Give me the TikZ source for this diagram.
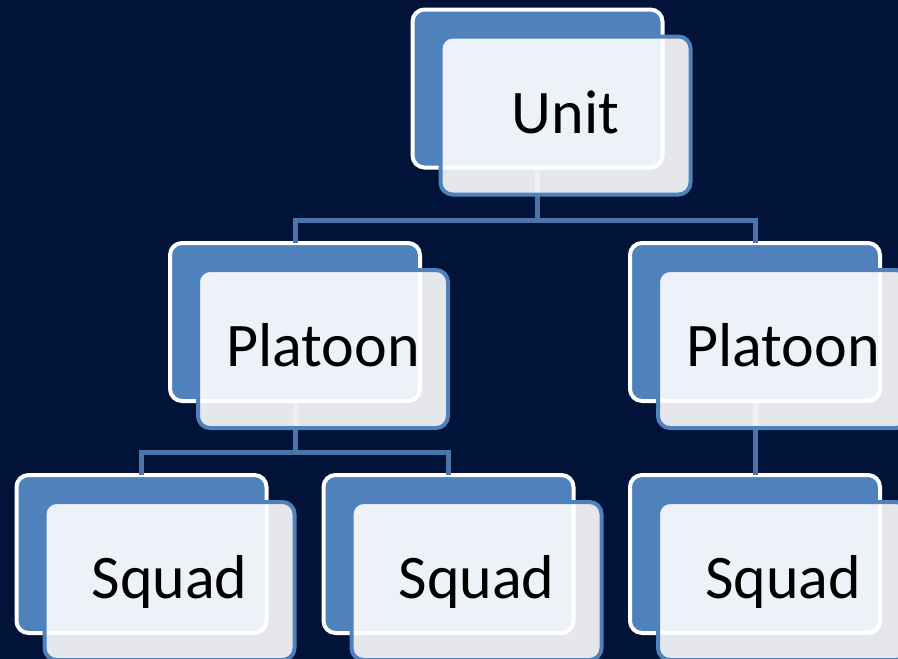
\documentclass[tikz,border=0pt]{standalone}
\usepackage{fontspec}
\setmainfont{Carlito}
\usetikzlibrary{positioning}
\definecolor{navy}{HTML}{011339}
\definecolor{boxblue}{HTML}{4F81BD}
\definecolor{linkblue}{HTML}{4A74AA}
\tikzset{
	backbox/.style={draw=white, fill=boxblue, line width=4pt, rounded corners=12pt, minimum width=250pt, minimum height=158pt, inner sep=0pt},
	frontbox/.style={draw=boxblue, fill=white, fill opacity=0.9, text opacity=1, line width=4pt, rounded corners=12pt, minimum width=250pt, minimum height=158pt, inner sep=0pt, text height=45pt, text depth=10pt, font=\fontsize{62}{70}\selectfont},
	link/.style={draw=linkblue, line width=5pt}
}

\begin{document}
\begin{tikzpicture}[x=1pt, y=-1pt]
		\clip(0, 0) rectangle (898, 659);
		\fill[navy](0, 0) rectangle (898, 659);
		\node[backbox](unit-b) at (537.5, 88.5){};
		\node[backbox](platoonl-b) at (295, 322){};
		\node[backbox](platoonr-b) at (755, 322){};
		\node[backbox](squadl-b) at (141.5, 554){};
		\node[backbox](squadm-b) at (448.5, 554){};
		\node[backbox](squadr-b) at (755, 554){};
		\coordinate(bus-u) at (537.5, 220);
		\coordinate(bus-p) at (295, 452);
		\draw[link](unit-b.south)--(bus-u)-|([yshift=-1.5pt]platoonl-b.north);
		\draw[link](bus-u)-|([yshift=-1.5pt]platoonr-b.north);
		\draw[link](platoonl-b.south)--(bus-p)-|([yshift=-1.5pt]squadl-b.north);
		\draw[link](bus-p)-|([yshift=-1.5pt]squadm-b.north);
		\draw[link](platoonr-b.south)--([yshift=-1.5pt]squadr-b.north);
		\node[frontbox](unit) at ([xshift=28pt, yshift=-27pt]unit-b.center){Unit};
		\node[frontbox](platoonl) at ([xshift=28pt, yshift=-27pt]platoonl-b.center){Platoon};
		\node[frontbox](platoonr) at ([xshift=28pt, yshift=-27pt]platoonr-b.center){Platoon};
		\node[frontbox](squadl) at ([xshift=28pt, yshift=-27pt]squadl-b.center){Squad};
		\node[frontbox](squadm) at ([xshift=28pt, yshift=-27pt]squadm-b.center){Squad};
		\node[frontbox](squadr) at ([xshift=28pt, yshift=-27pt]squadr-b.center){Squad};
	\end{tikzpicture}
\end{document}
